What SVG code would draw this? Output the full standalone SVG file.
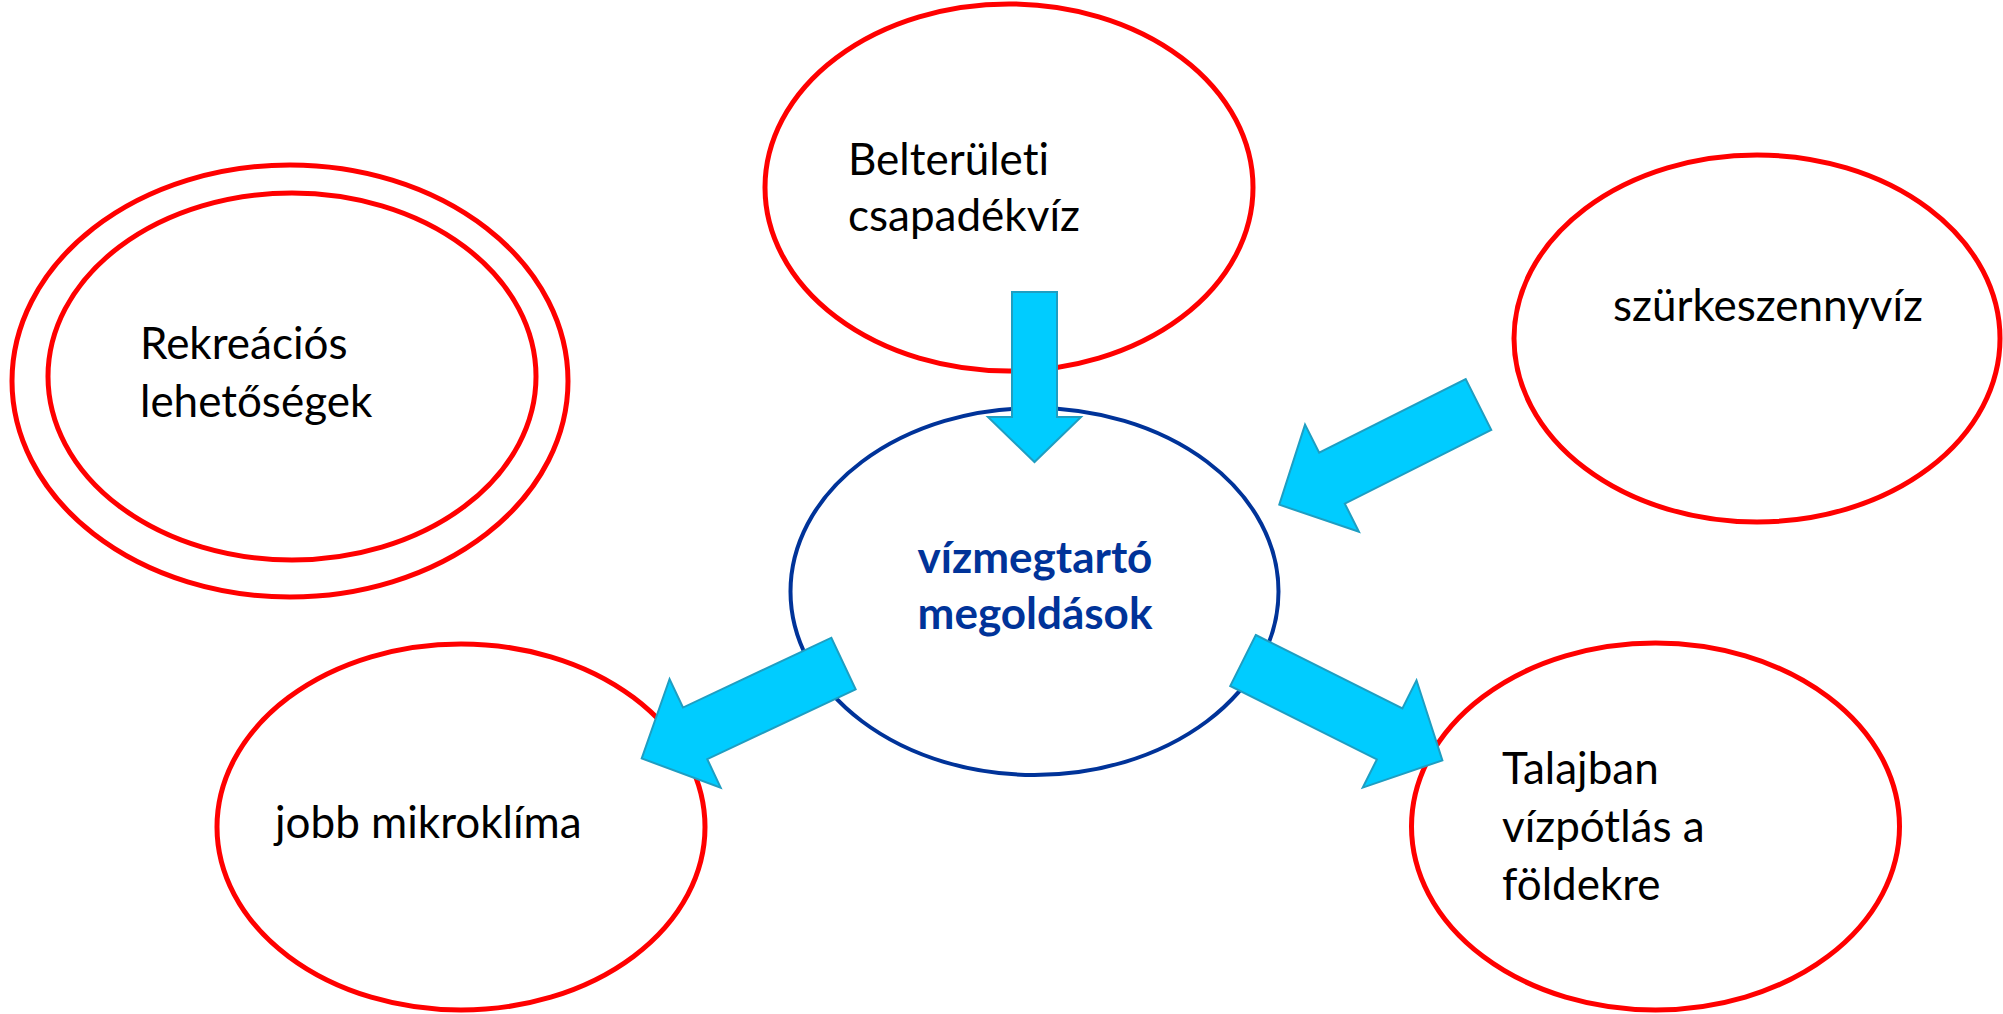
<svg xmlns="http://www.w3.org/2000/svg" xmlns:xlink="http://www.w3.org/1999/xlink" width="2003" height="1014" viewBox="0 0 2003 1014">
  <style>
    .red { fill: #FFFFFF; stroke: #FF0000; stroke-width: 5; }
    .blue { fill: #FFFFFF; stroke: #003399; stroke-width: 4; }
    .lbl { font-family: Lato, "Liberation Sans", sans-serif; font-size: 44px; fill: #000000; font-variant-ligatures: none; font-feature-settings: "liga" 0, "dlig" 0; }
    .ctr { font-family: Lato, "Liberation Sans", sans-serif; font-size: 44px; font-weight: bold; fill: #003399; text-anchor: middle; font-variant-ligatures: none; font-feature-settings: "liga" 0, "dlig" 0; }
    .arr { fill: #00CCFF; stroke: #1E9EC2; stroke-width: 2; stroke-linejoin: miter; }
  </style>
  <defs>
    <path id="bigArrow" d="M0,-28.5 H164 V-60 L223,0 L164,60 V28.5 H0 Z"/>
  </defs>
  <rect x="0" y="0" width="2003" height="1014" fill="#FFFFFF"/>

  <g id="node-rekreacio">
    <ellipse class="red" cx="290" cy="381" rx="278" ry="216"/>
    <ellipse class="red" cx="292" cy="376.5" rx="244" ry="183.5"/>
    <text class="lbl" x="140" y="359">Rekreációs</text>
    <text class="lbl" x="140" y="417">lehetőségek</text>
  </g>

  <g id="node-belteruleti">
    <ellipse class="red" cx="1009" cy="187.5" rx="244" ry="183.5"/>
    <text class="lbl" x="848" y="175">Belterületi</text>
    <text class="lbl" x="848" y="231">csapadékvíz</text>
  </g>

  <g id="node-szurke">
    <ellipse class="red" cx="1757" cy="338.5" rx="243" ry="183.5"/>
    <text class="lbl" x="1613" y="321">szürkeszennyvíz</text>
  </g>

  <g id="node-center">
    <ellipse class="blue" cx="1034.5" cy="591.5" rx="244" ry="183.5"/>
    <text class="ctr" x="1035" y="573">vízmegtartó</text>
    <text class="ctr" x="1035" y="629">megoldások</text>
  </g>

  <g id="node-mikroklima">
    <ellipse class="red" cx="461" cy="827" rx="244" ry="183"/>
    <text class="lbl" x="275" y="838">jobb mikroklíma</text>
  </g>

  <g id="node-talaj">
    <ellipse class="red" cx="1655.5" cy="826.5" rx="244" ry="183.5"/>
    <text class="lbl" x="1502" y="784">Talajban</text>
    <text class="lbl" x="1502" y="842">vízpótlás a</text>
    <text class="lbl" x="1502" y="900">földekre</text>
  </g>

  <g id="connectors">
    <path class="arr" d="M1012,292 H1057 V417 H1081 L1034.5,462 L988,417 H1012 Z"/>
    <use xlink:href="#bigArrow" class="arr" transform="translate(1478.5,404.5) rotate(153.3)"/>
    <use xlink:href="#bigArrow" class="arr" transform="translate(843.5,663.5) rotate(154.8)"/>
    <use xlink:href="#bigArrow" class="arr" transform="translate(1243,660.5) rotate(26.6)"/>
  </g>
</svg>
